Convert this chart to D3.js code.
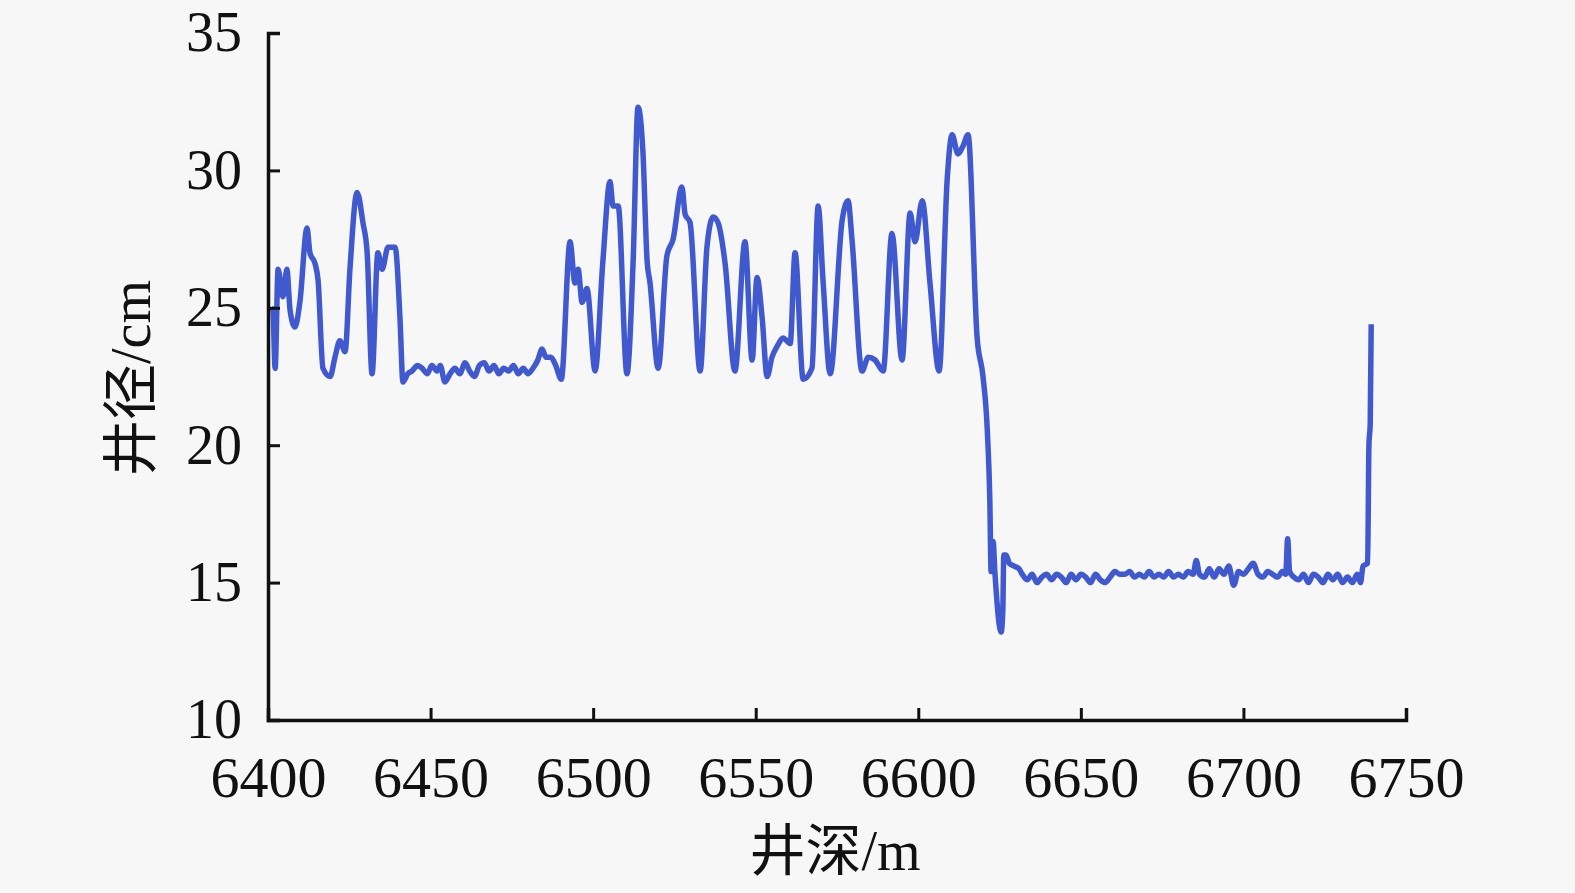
<!DOCTYPE html>
<html><head><meta charset="utf-8">
<script src="https://cdn.jsdelivr.net/npm/d3@7"></script>
<style>html,body{margin:0;padding:0;background:#f7f7f7;}svg{display:block;}</style>
</head><body>
<svg id="chart" width="1575" height="893"></svg>
<script>
const depth = [
6401.0,6401.5,6402.2,6403.1,6404.6,6405.8,6406.8,6408.3,6409.8,6412.0,6412.9,6414.5,6415.4,6416.9,6419.1,6420.6,6422.1,6423.7,6425.2,6427.4,6429.2,6430.5,6432.0,6433.8,6435.1,6436.9,6439.1,6440.6,6441.5,
6443.0,6444.3,6446.0,6447.4,6449.0,6450.4,6452.0,6453.0,6454.4,6456.0,6457.5,6459.0,6460.6,6462.0,6463.5,6465.0,6466.5,6468.0,6469.5,6471.0,6472.5,6474.0,6475.5,6477.0,6478.5,6480.0,6481.5,6483.0,6484.3,6485.5,6487.0,6488.5,6490.2,
6492.9,6494.4,6495.4,6496.6,6498.1,6500.6,6503.0,6505.2,6506.1,6507.7,6510.4,6512.3,6513.8,6515.3,6516.6,6517.5,6520.0,6522.7,6524.6,6527.3,6528.3,6529.8,6532.9,6535.0,6536.9,
6538.4,6540.6,6543.6,6546.7,6548.9,6550.4,6552.0,6553.5,6555.0,6556.6,6558.4,6560.6,6562.1,6564.6,6567.3,6569.2,6570.7,6572.9,6576.6,6578.4,6579.6,6582.7,6584.6,6586.7,6589.2,6591.9,
6595.0,6597.5,6599.0,6601.2,6603.6,6606.4,6608.9,6610.4,6612.2,6613.8,6615.3,6618.1,6619.9,6621.2,6622.0,6622.4,6623.0,6623.6,6625.5,6626.0,6626.3,6627.0,6628.0,6629.5,6631.0,
6632.0,6633.5,6635.0,6636.5,6638.0,6639.5,6641.0,6642.5,6644.0,6645.5,6647.0,6648.5,6650.0,6651.5,6653.0,6654.5,6656.0,6657.5,6659.0,6660.5,6662.0,6663.5,6665.0,6666.5,6668.0,6669.5,6671.0,6672.5,6674.0,6675.5,6677.0,6678.5,6680.0,6681.5,6683.0,6684.5,6685.5,6686.5,6688.0,6689.5,6691.0,6692.5,6694.0,6695.5,6697.0,6698.5,6700.0,6701.5,6703.0,6704.5,6706.0,6707.5,6709.0,6710.5,6712.0,6713.0,6713.6,6714.2,6715.5,6717.0,6718.5,6720.0,6721.5,6723.0,6724.5,6726.0,6727.5,6729.0,6730.5,6732.0,6733.5,6735.0,6736.0,6736.8,6738.2,6738.6,6739.0,6739.3
];
const caliper = [
25.0,24.9,22.8,26.4,25.4,26.4,24.9,24.3,25.2,27.9,27.0,26.6,26.0,22.8,22.5,23.2,23.8,23.4,26.4,29.2,28.1,27.0,22.6,27.0,26.4,27.2,27.2,24.6,22.3,
22.6,22.7,22.9,22.8,22.6,22.9,22.7,22.9,22.3,22.6,22.8,22.6,23.0,22.7,22.5,22.9,23.0,22.7,22.9,22.6,22.8,22.7,22.9,22.6,22.8,22.6,22.8,23.1,23.5,23.2,23.2,22.9,22.4,
27.4,25.9,26.4,25.2,25.7,22.7,26.7,29.6,28.7,28.7,22.6,26.7,32.3,30.7,26.7,25.9,22.8,26.9,27.5,29.4,28.4,28.1,22.7,27.2,28.3,
28.1,26.6,22.7,27.4,23.1,26.1,24.6,22.5,23.2,23.6,23.9,23.7,27.0,22.4,22.8,28.7,26.0,22.6,28.2,28.9,27.5,22.7,23.2,23.1,22.7,27.7,
23.1,28.45,27.4,28.9,25.9,22.7,29.7,31.3,30.6,30.9,31.3,23.9,22.5,20.6,18.0,15.4,16.5,15.3,13.2,14.0,16.0,16.0,15.7,15.6,15.5,
15.3,15.1,15.3,15.0,15.2,15.3,15.1,15.3,15.2,15.0,15.3,15.1,15.3,15.2,15.0,15.3,15.1,15.0,15.2,15.4,15.3,15.3,15.4,15.2,15.3,15.2,15.4,15.2,15.3,15.2,15.4,15.2,15.3,15.2,15.4,15.3,15.8,15.3,15.2,15.5,15.2,15.5,15.3,15.6,14.9,15.4,15.3,15.5,15.7,15.3,15.2,15.4,15.3,15.2,15.4,15.3,16.6,15.4,15.2,15.1,15.3,15.0,15.3,15.2,15.0,15.3,15.1,15.3,15.0,15.2,15.0,15.3,15.0,15.6,15.7,20.0,20.8,24.4
];
const xTicks = [6400,6450,6500,6550,6600,6650,6700,6750];
const yTicks = [10,15,20,25,30,35];
const xTitle = "井深/m";
const yTitle = "井径/cm";

const svg = d3.select("#chart");
const x = d3.scaleLinear().domain([6400,6750]).range([268,1406]);
const y = d3.scaleLinear().domain([10,35]).range([720,33]);
const font = "'Liberation Serif','Times New Roman','Noto Sans CJK SC',serif";

const pts = depth.map((d,i)=>[d,caliper[i]]);
svg.append("path").datum(pts)
  .attr("fill","none").attr("stroke","#4159cf").attr("stroke-width",5.5)
  .attr("stroke-linejoin","round")
  .attr("d", d3.line().curve(d3.curveMonotoneX).x(d=>x(d[0])).y(d=>y(d[1])));

const xAxis = svg.append("g").attr("transform","translate(0,720)")
  .call(d3.axisBottom(x).tickValues(xTicks).tickSize(-12).tickPadding(36).tickFormat(d3.format("d")));
const yAxis = svg.append("g").attr("transform","translate(268,0)")
  .call(d3.axisLeft(y).tickValues(yTicks).tickSize(-12).tickPadding(26).tickFormat(d3.format("d")));
[xAxis,yAxis].forEach(g=>{
  g.select(".domain").attr("stroke","#111").attr("stroke-width",3.5);
  g.selectAll(".tick line").attr("stroke","#111").attr("stroke-width",3);
  g.selectAll("text").attr("fill","#111").style("font-family",font);
});
xAxis.selectAll("text").style("font-size","58px").attr("dy","0.71em");
yAxis.selectAll("text").style("font-size","56px");

svg.append("text").attr("x",835).attr("y",870).attr("text-anchor","middle")
  .style("font-family",font).style("font-size","56px").attr("fill","#111").text(xTitle);
svg.append("text").attr("transform","translate(150,378) rotate(-90)").attr("text-anchor","middle")
  .style("font-family",font).style("font-size","56px").attr("fill","#111").text(yTitle);
</script>
</body></html>
